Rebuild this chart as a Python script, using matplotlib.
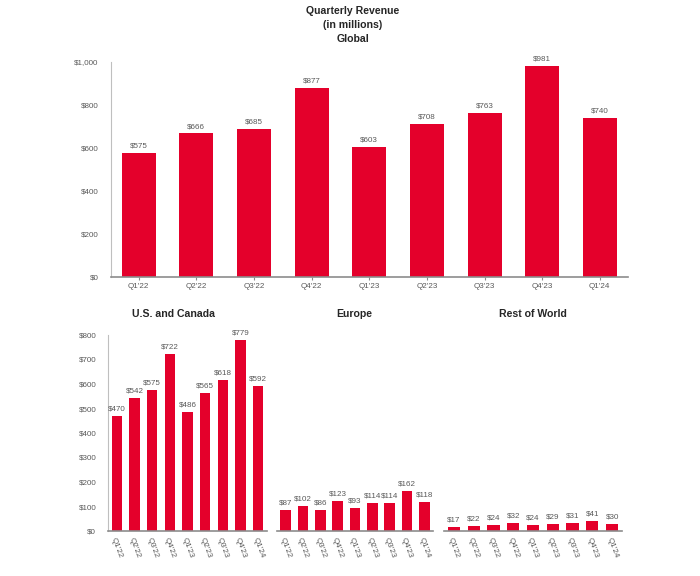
import matplotlib
matplotlib.use('Agg')
import matplotlib.pyplot as plt
from matplotlib.ticker import FuncFormatter

plt.rcParams['font.family'] = ['Liberation Sans', 'DejaVu Sans']

quarters = ["Q1'22", "Q2'22", "Q3'22", "Q4'22", "Q1'23", "Q2'23", "Q3'23", "Q4'23", "Q1'24"]
global_rev = [575, 666, 685, 877, 603, 708, 763, 981, 740]
us_canada = [470, 542, 575, 722, 486, 565, 618, 779, 592]
europe = [87, 102, 86, 123, 93, 114, 114, 162, 118]
rest_world = [17, 22, 24, 32, 24, 29, 31, 41, 30]

RED = '#E4002B'
GREY = '#595959'
AXIS = '#8C8C8C'
W, H = 700, 576


def make_ax(left, right, top, bottom):
    # pixel box from the top-left corner of the picture
    return fig.add_axes([left / W, 1 - bottom / H, (right - left) / W, (bottom - top) / H])


def draw_bars(ax, values, ymax, width, label_size):
    xs = list(range(len(values)))
    ax.bar(xs, values, width=width, color=RED)
    for x, v in zip(xs, values):
        ax.annotate(f'${v}', (x, v), xytext=(0, 2.5), textcoords='offset points',
                    ha='center', va='bottom', fontsize=label_size, color=GREY)
    ax.set_xlim(-0.5, len(values) - 0.5)
    ax.set_ylim(0, ymax)
    ax.spines[['top', 'right']].set_visible(False)
    ax.spines['bottom'].set_color(AXIS)
    ax.spines['left'].set_color('#BFBFBF')
    ax.spines['bottom'].set_linewidth(1.2)
    ax.patch.set_alpha(0)


fig = plt.figure(figsize=(7, 5.76), dpi=100)

# top panel
ax = make_ax(110.5, 628, 61.5, 277)
draw_bars(ax, global_rev, 1000, 0.59, 5.8)
ax.set_xlim(-0.49, 8.49)
ax.set_xticks(range(9), quarters)
ax.set_yticks(range(0, 1001, 200))
ax.yaxis.set_major_formatter(FuncFormatter(lambda v, p: f'${v:,.0f}'))
ax.tick_params(axis='x', labelsize=5.8, labelcolor=GREY, color=AXIS, length=2.5, pad=2)
ax.tick_params(axis='y', labelsize=5.8, labelcolor=GREY, length=0, pad=8.5)

# bottom panels
panels = [(us_canada, 108, 267, 0.60), (europe, 277, 433, 0.62), (rest_world, 444, 622, 0.62)]
for values, left, right, bar_w in panels:
    ax = make_ax(left, right, 335, 531)
    draw_bars(ax, values, 800, bar_w, 5.8)
    ax.set_xticks(range(9), quarters, rotation=-70, ha='center')
    ax.tick_params(axis='x', labelsize=5.8, labelcolor=GREY, length=0, pad=4)
    if left == 108:
        ax.set_yticks(range(0, 801, 100))
        ax.yaxis.set_major_formatter(FuncFormatter(lambda v, p: f'${v:.0f}'))
        ax.tick_params(axis='y', labelsize=5.8, labelcolor=GREY, length=0, pad=8.5)
    else:
        ax.set_yticks([])
        ax.spines['left'].set_visible(False)

titles = [('Quarterly Revenue', 353, 11), ('(in millions)', 353, 24.5), ('Global', 353, 39.5),
          ('U.S. and Canada', 173.5, 314), ('Europe', 354.5, 314), ('Rest of World', 532.5, 314)]
for text, x, y in titles:
    fig.text(x / W, 1 - y / H, text, ha='center', va='center', fontsize=7.6,
             fontweight='bold', color='#262626')

fig.savefig('out.png', dpi=100)
